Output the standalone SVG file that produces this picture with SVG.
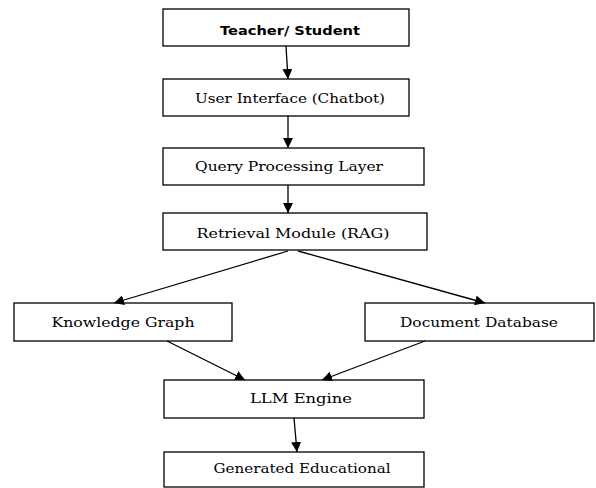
<svg xmlns="http://www.w3.org/2000/svg" width="596" height="488" viewBox="0 0 596 488">
<defs>
<marker id="ah" viewBox="0 0 10 10" refX="10" refY="5" markerWidth="10" markerHeight="10" markerUnits="userSpaceOnUse" orient="auto">
<path d="M0,0 L10,5 L0,10 Z" fill="#000"/>
</marker>
<style>
rect{fill:#fff;stroke:#000;stroke-width:1.3}
text{font-family:"DejaVu Serif","Liberation Serif",serif;font-size:13.5px;fill:#000;text-anchor:middle}
text.b{font-family:"DejaVu Sans","Liberation Sans",sans-serif;font-weight:bold;font-size:13px}
#connectors line{stroke:#000;stroke-width:1.3;marker-end:url(#ah)}
</style>
</defs>
<rect x="0" y="0" width="596" height="488" style="stroke:none"/>
<g id="n1"><rect x="163" y="9" width="246" height="37"/><text class="b" x="290" y="35" textLength="140" lengthAdjust="spacingAndGlyphs">Teacher/ Student</text></g>
<g id="n2"><rect x="163" y="79" width="246" height="37"/><text x="290" y="103" textLength="190" lengthAdjust="spacingAndGlyphs">User Interface (Chatbot)</text></g>
<g id="n3"><rect x="163" y="148" width="261" height="37"/><text x="289" y="171" textLength="188" lengthAdjust="spacingAndGlyphs">Query Processing Layer</text></g>
<g id="n4"><rect x="163" y="213" width="264" height="37"/><text x="293" y="238" textLength="193" lengthAdjust="spacingAndGlyphs">Retrieval Module (RAG)</text></g>
<g id="n5"><rect x="14" y="303" width="218" height="38"/><text x="123" y="327" textLength="143" lengthAdjust="spacingAndGlyphs">Knowledge Graph</text></g>
<g id="n6"><rect x="365" y="303" width="229" height="38"/><text x="479" y="327" textLength="158" lengthAdjust="spacingAndGlyphs">Document Database</text></g>
<g id="n7"><rect x="164" y="380" width="260" height="38"/><text x="301" y="403" textLength="102" lengthAdjust="spacingAndGlyphs">LLM Engine</text></g>
<g id="n8"><rect x="164" y="452" width="260" height="35"/><text x="302" y="473" textLength="177" lengthAdjust="spacingAndGlyphs">Generated Educational</text></g>
<g id="connectors">
<line x1="286" y1="46" x2="288" y2="79"/>
<line x1="288" y1="116" x2="288" y2="148"/>
<line x1="288" y1="185" x2="288" y2="213"/>
<line x1="288" y1="251" x2="114" y2="303"/>
<line x1="298" y1="251" x2="485" y2="303"/>
<line x1="167" y1="341" x2="245" y2="380"/>
<line x1="425" y1="341" x2="322" y2="380"/>
<line x1="294" y1="418" x2="297" y2="452"/>
</g>
</svg>
